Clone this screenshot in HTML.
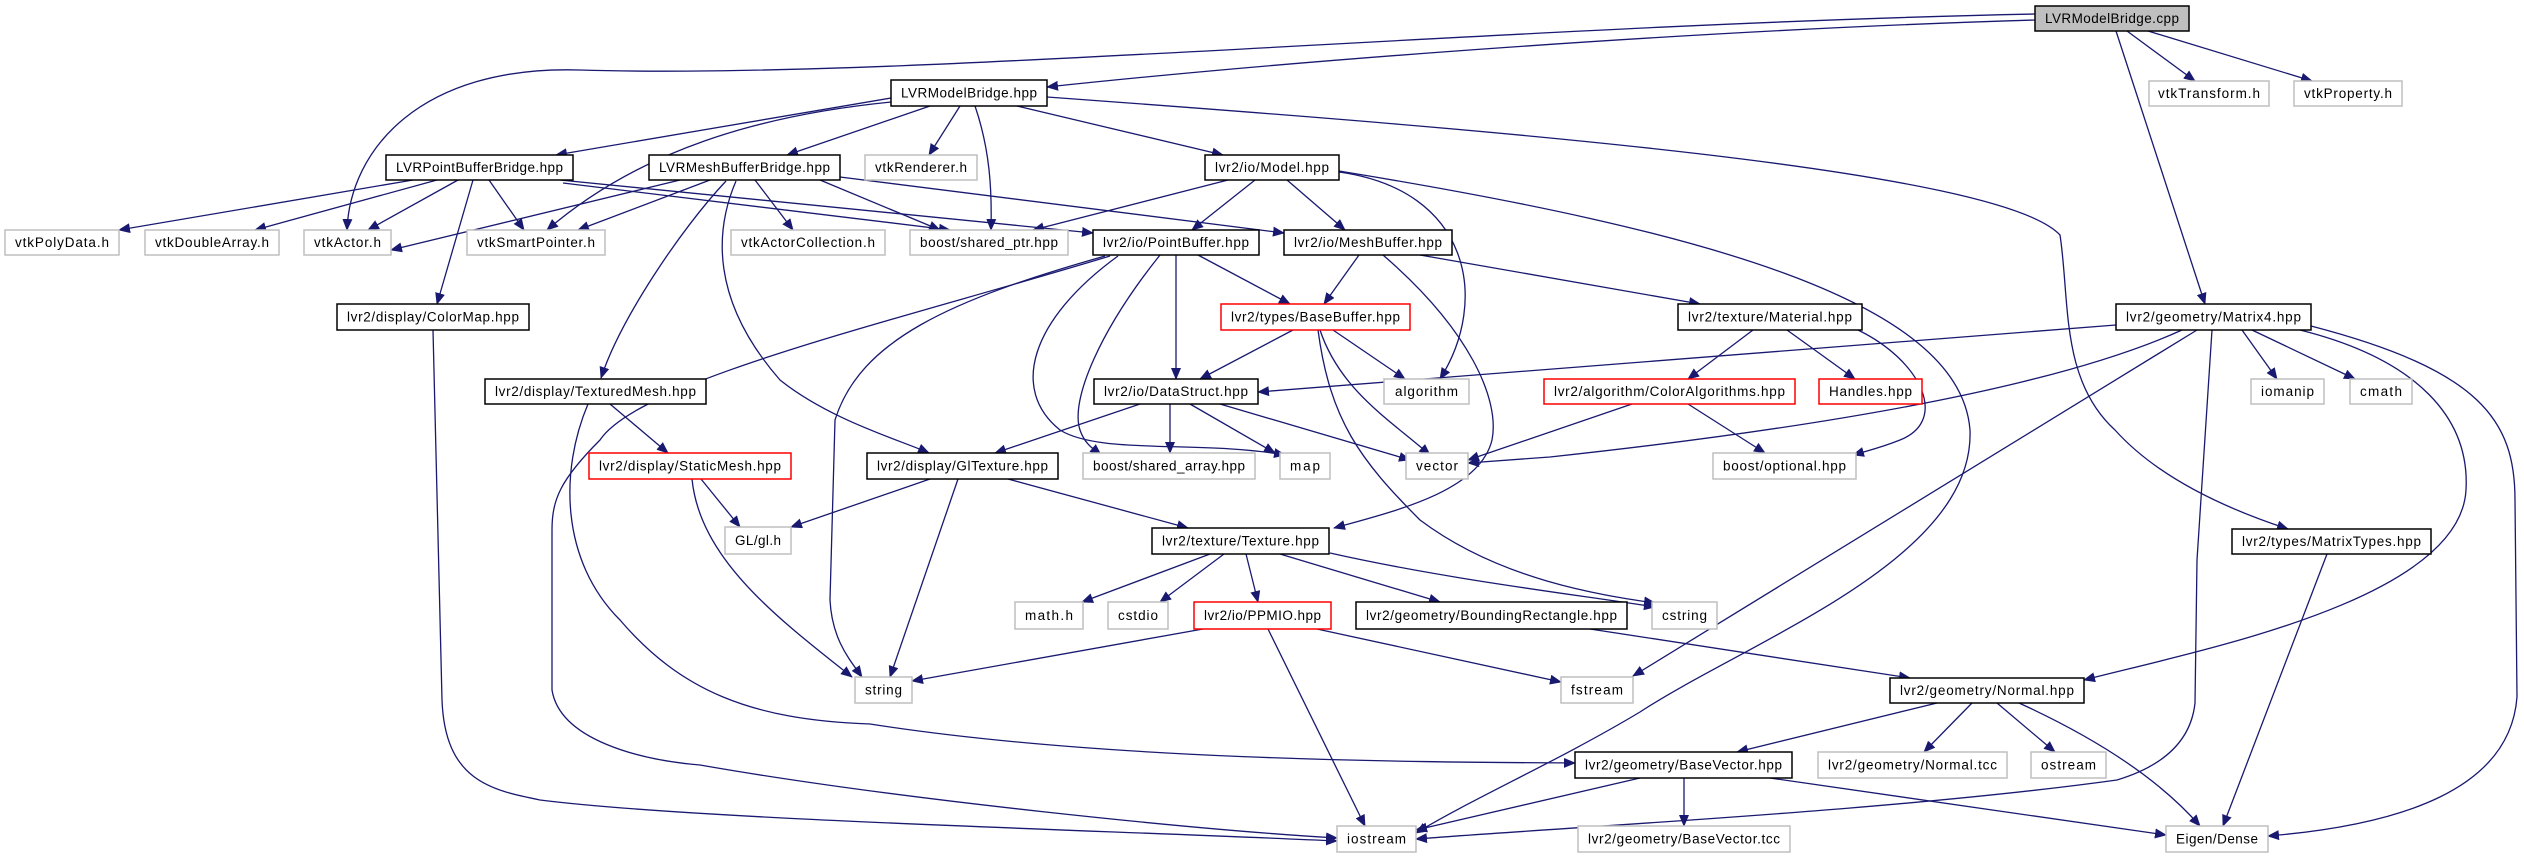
<!DOCTYPE html>
<html><head><meta charset="utf-8"><style>
html,body{margin:0;padding:0;background:#fff;width:2524px;height:859px;overflow:hidden}
svg{display:block}
text{font-family:"Liberation Sans",sans-serif;font-size:13.5px;fill:#000;dominant-baseline:central;text-anchor:middle}
.e{fill:none;stroke:#191970;stroke-width:1.3}
.b{fill:#fff;stroke:#000;stroke-width:1.5}
.g{fill:#fff;stroke:#bfbfbf;stroke-width:1.5}
.r{fill:#fff;stroke:#ff0000;stroke-width:1.5}
.root{fill:#bfbfbf;stroke:#000;stroke-width:1.5}
</style></head><body>
<svg width="2524" height="859" viewBox="0 0 2524 859" xmlns="http://www.w3.org/2000/svg">
<defs><marker id="a" markerUnits="userSpaceOnUse" markerWidth="12" markerHeight="10" refX="11" refY="5" orient="auto"><path d="M0,0 L12,5 L0,10 z" fill="#191970"/></marker></defs>
<g class="e" marker-end="url(#a)">
<!-- root edges -->
<path d="M2035,20 C1700,30 1300,60 1047,87"/>
<path d="M2035,14 C1500,25 900,80 580,70 C420,65 350,150 347,230"/>
<path d="M2127,31 L2195,81"/>
<path d="M2148,31 L2312,81"/>
<path d="M2116,31 L2205,304"/>
<!-- LVRModelBridge.hpp -->
<path d="M891,98 L556,155"/>
<path d="M930,106 L787,155"/>
<path d="M960,106 L929,155"/>
<path d="M975,106 C990,150 992,190 991,230"/>
<path d="M1017,106 L1223,155"/>
<path d="M891,102 C760,115 640,150 547,230"/>
<path d="M1047,97 C1500,130 2000,170 2060,235 C2070,300 2060,380 2115,430 C2160,480 2230,510 2288,529"/>
<!-- Model -->
<path d="M1228,180 L1033,230"/>
<path d="M1255,180 L1192,230"/>
<path d="M1287,180 L1345,230"/>
<path d="M1339,172 C1470,190 1490,300 1440,379"/>
<path d="M1339,171 C1700,230 1960,300 1970,430 C1975,560 1750,640 1640,712 C1560,760 1470,800 1416,833"/>
<!-- PBB -->
<path d="M413,180 L119,230"/>
<path d="M437,180 L255,230"/>
<path d="M458,180 L368,230"/>
<path d="M489,180 L524,230"/>
<path d="M473,180 L437,304"/>
<path d="M560,180 L1093,233"/>
<path d="M563,183 L950,230"/>
<!-- MBB -->
<path d="M680,180 L391,250"/>
<path d="M710,180 L578,230"/>
<path d="M755,180 L793,230"/>
<path d="M820,180 L940,230"/>
<path d="M840,177 L1284,233"/>
<path d="M726,181 C680,230 620,320 601,378"/>
<path d="M736,181 C715,230 710,300 780,380 C830,420 900,440 929,453"/>
<path d="M610,404 L668,453"/>
<!-- PointBuffer -->
<path d="M1176,255 L1176,379"/>
<path d="M1198,255 L1290,304"/>
<path d="M1160,255 C1100,330 1070,400 1080,430 C1085,445 1095,450 1101,455"/>
<path d="M1118,256 C1030,320 1010,390 1060,430 C1100,455 1200,440 1285,455"/>
<path d="M1105,256 C950,300 860,340 835,420 L830,600 C832,640 850,660 862,677"/>
<path d="M1110,256 C900,320 640,380 600,440 C560,480 552,500 552,530 L552,690 C560,740 640,760 700,765 C900,800 1200,830 1337,838"/>
<!-- MeshBuffer -->
<path d="M1359,255 L1324,304"/>
<path d="M1420,255 L1700,304"/>
<path d="M1383,255 C1470,330 1500,400 1492,440 C1480,490 1400,510 1334,528"/>
<!-- BaseBuffer -->
<path d="M1293,330 L1200,379"/>
<path d="M1333,330 L1405,379"/>
<path d="M1320,330 C1340,390 1390,420 1430,455"/>
<path d="M1318,330 C1330,420 1360,460 1420,520 C1500,580 1600,595 1655,603"/>
<!-- DataStruct -->
<path d="M1140,404 L995,453"/>
<path d="M1170,404 L1170,453"/>
<path d="M1190,404 L1275,453"/>
<path d="M1220,404 L1410,460"/>
<!-- ColorMap / TexturedMesh / StaticMesh -->
<path d="M433,330 L442,700 C445,780 490,790 540,800 C700,820 1100,830 1337,841"/>
<path d="M588,404 C560,470 560,560 620,620 C680,690 750,720 870,724 C1100,760 1400,762 1575,763"/>
<path d="M701,479 L740,527"/>
<path d="M692,479 C700,560 780,620 852,677"/>
<!-- GlTexture -->
<path d="M930,479 L791,527"/>
<path d="M958,479 L890,677"/>
<path d="M1008,479 L1188,528"/>
<!-- Texture -->
<path d="M1210,554 L1082,602"/>
<path d="M1224,554 L1160,602"/>
<path d="M1246,554 L1258,602"/>
<path d="M1280,554 L1440,602"/>
<path d="M1330,553 C1450,580 1580,595 1655,607"/>
<!-- PPMIO -->
<path d="M1203,629 L912,681"/>
<path d="M1317,629 L1561,682"/>
<path d="M1268,629 L1365,826"/>
<!-- Material / ColorAlg -->
<path d="M1753,330 L1688,379"/>
<path d="M1787,330 L1855,379"/>
<path d="M1858,330 C1920,360 1950,420 1900,440 C1880,448 1870,450 1853,455"/>
<path d="M1632,404 L1468,460"/>
<path d="M1688,404 L1765,453"/>
<!-- Matrix4 -->
<path d="M2116,325 L1258,392"/>
<path d="M2182,330 C2050,390 1800,430 1550,457 L1468,463"/>
<path d="M2197,330 L1633,676"/>
<path d="M2212,330 L2197,560 L2195,703 C2190,750 2150,770 2117,780 C1900,810 1600,825 1416,839"/>
<path d="M2242,330 L2277,379"/>
<path d="M2252,330 L2355,379"/>
<path d="M2300,330 C2420,360 2470,420 2466,490 C2460,600 2200,650 2084,680"/>
<path d="M2311,326 C2480,370 2515,420 2515,500 L2517,697 C2510,790 2400,825 2268,836"/>
<!-- BoundingRect / Normal / BaseVector / MatrixTypes -->
<path d="M1590,629 L1910,678"/>
<path d="M1937,703 L1737,752"/>
<path d="M1972,703 L1924,752"/>
<path d="M1997,703 L2055,752"/>
<path d="M2019,703 C2100,740 2160,780 2200,826"/>
<path d="M2327,554 L2223,826"/>
<path d="M1770,778 L2166,835"/>
<path d="M1640,778 L1416,830"/>
<path d="M1684,778 L1684,826"/>
</g>
<!-- nodes -->
<g>
<rect class="root" x="2035" y="6" width="154" height="25"/><text x="2112" y="18.5" textLength="134">LVRModelBridge.cpp</text>
<rect class="g" x="2149" y="81" width="120" height="25"/><text x="2209" y="93.5" textLength="102">vtkTransform.h</text>
<rect class="g" x="2294" y="81" width="108" height="25"/><text x="2348" y="93.5" textLength="88">vtkProperty.h</text>
<rect class="b" x="891" y="80" width="156" height="26"/><text x="969" y="93" textLength="136">LVRModelBridge.hpp</text>
<rect class="g" x="865" y="155" width="112" height="25"/><text x="921" y="167.5" textLength="92">vtkRenderer.h</text>
<rect class="b" x="1205" y="155" width="134" height="25"/><text x="1272" y="167.5" textLength="114">lvr2/io/Model.hpp</text>
<rect class="b" x="386" y="155" width="187" height="25"/><text x="479.5" y="167.5" textLength="167">LVRPointBufferBridge.hpp</text>
<rect class="b" x="649" y="155" width="191" height="25"/><text x="744.5" y="167.5" textLength="171">LVRMeshBufferBridge.hpp</text>
<rect class="g" x="5" y="230" width="114" height="25"/><text x="62" y="242.5" textLength="94">vtkPolyData.h</text>
<rect class="g" x="145" y="230" width="134" height="25"/><text x="212" y="242.5" textLength="114">vtkDoubleArray.h</text>
<rect class="g" x="304" y="230" width="87" height="25"/><text x="347.5" y="242.5" textLength="67">vtkActor.h</text>
<rect class="g" x="467" y="230" width="138" height="25"/><text x="536" y="242.5" textLength="118">vtkSmartPointer.h</text>
<rect class="g" x="731" y="230" width="154" height="25"/><text x="808" y="242.5" textLength="134">vtkActorCollection.h</text>
<rect class="g" x="910" y="230" width="158" height="25"/><text x="989" y="242.5" textLength="138">boost/shared_ptr.hpp</text>
<rect class="b" x="1093" y="230" width="166" height="25"/><text x="1176" y="242.5" textLength="146">lvr2/io/PointBuffer.hpp</text>
<rect class="b" x="1284" y="230" width="168" height="25"/><text x="1368" y="242.5" textLength="148">lvr2/io/MeshBuffer.hpp</text>
<rect class="b" x="337" y="304" width="192" height="26"/><text x="433" y="317" textLength="172">lvr2/display/ColorMap.hpp</text>
<rect class="r" x="1221" y="304" width="189" height="26"/><text x="1315.5" y="317" textLength="169">lvr2/types/BaseBuffer.hpp</text>
<rect class="b" x="1678" y="304" width="184" height="26"/><text x="1770" y="317" textLength="164">lvr2/texture/Material.hpp</text>
<rect class="b" x="2116" y="304" width="195" height="26"/><text x="2213.5" y="317" textLength="175">lvr2/geometry/Matrix4.hpp</text>
<rect class="b" x="485" y="379" width="221" height="25"/><text x="595.5" y="391.5" textLength="201">lvr2/display/TexturedMesh.hpp</text>
<rect class="b" x="1094" y="379" width="164" height="25"/><text x="1176" y="391.5" textLength="144">lvr2/io/DataStruct.hpp</text>
<rect class="g" x="1384" y="379" width="85" height="25"/><text x="1426.5" y="391.5" textLength="63">algorithm</text>
<rect class="r" x="1544" y="379" width="251" height="25"/><text x="1669.5" y="391.5" textLength="231">lvr2/algorithm/ColorAlgorithms.hpp</text>
<rect class="r" x="1819" y="379" width="103" height="25"/><text x="1870.5" y="391.5" textLength="83">Handles.hpp</text>
<rect class="g" x="2251" y="379" width="73" height="25"/><text x="2287.5" y="391.5" textLength="53">iomanip</text>
<rect class="g" x="2350" y="379" width="62" height="25"/><text x="2381" y="391.5" textLength="42">cmath</text>
<rect class="r" x="589" y="453" width="202" height="26"/><text x="690" y="466" textLength="182">lvr2/display/StaticMesh.hpp</text>
<rect class="b" x="867" y="453" width="191" height="26"/><text x="962.5" y="466" textLength="171">lvr2/display/GlTexture.hpp</text>
<rect class="g" x="1083" y="453" width="172" height="26"/><text x="1169" y="466" textLength="152">boost/shared_array.hpp</text>
<rect class="g" x="1280" y="453" width="50" height="26"/><text x="1305" y="466" textLength="30">map</text>
<rect class="g" x="1406" y="453" width="62" height="26"/><text x="1437" y="466" textLength="42">vector</text>
<rect class="g" x="1713" y="453" width="143" height="26"/><text x="1784.5" y="466" textLength="123">boost/optional.hpp</text>
<rect class="g" x="725" y="527" width="66" height="27"/><text x="758" y="540.5" textLength="46">GL/gl.h</text>
<rect class="b" x="1152" y="528" width="177" height="26"/><text x="1240.5" y="541" textLength="157">lvr2/texture/Texture.hpp</text>
<rect class="b" x="2232" y="529" width="199" height="25"/><text x="2331.5" y="541.5" textLength="179">lvr2/types/MatrixTypes.hpp</text>
<rect class="g" x="1015" y="602" width="68" height="27"/><text x="1049" y="615.5" textLength="48">math.h</text>
<rect class="g" x="1108" y="602" width="60" height="27"/><text x="1138" y="615.5" textLength="40">cstdio</text>
<rect class="r" x="1194" y="602" width="137" height="27"/><text x="1262.5" y="615.5" textLength="117">lvr2/io/PPMIO.hpp</text>
<rect class="b" x="1356" y="602" width="271" height="27"/><text x="1491.5" y="615.5" textLength="251">lvr2/geometry/BoundingRectangle.hpp</text>
<rect class="g" x="1652" y="602" width="65" height="27"/><text x="1684.5" y="615.5" textLength="45">cstring</text>
<rect class="g" x="855" y="677" width="57" height="26"/><text x="883.5" y="690" textLength="37">string</text>
<rect class="g" x="1561" y="677" width="72" height="26"/><text x="1597" y="690" textLength="52">fstream</text>
<rect class="b" x="1890" y="678" width="194" height="25"/><text x="1987" y="690.5" textLength="174">lvr2/geometry/Normal.hpp</text>
<rect class="b" x="1575" y="752" width="217" height="26"/><text x="1683.5" y="765" textLength="197">lvr2/geometry/BaseVector.hpp</text>
<rect class="g" x="1818" y="752" width="189" height="26"/><text x="1912.5" y="765" textLength="169">lvr2/geometry/Normal.tcc</text>
<rect class="g" x="2031" y="752" width="75" height="26"/><text x="2068.5" y="765" textLength="55">ostream</text>
<rect class="g" x="1337" y="826" width="79" height="26"/><text x="1376.5" y="839" textLength="59">iostream</text>
<rect class="g" x="1578" y="826" width="212" height="26"/><text x="1684" y="839" textLength="192">lvr2/geometry/BaseVector.tcc</text>
<rect class="g" x="2166" y="826" width="102" height="26"/><text x="2217" y="839" textLength="82">Eigen/Dense</text>
</g>
</svg>
</body></html>
